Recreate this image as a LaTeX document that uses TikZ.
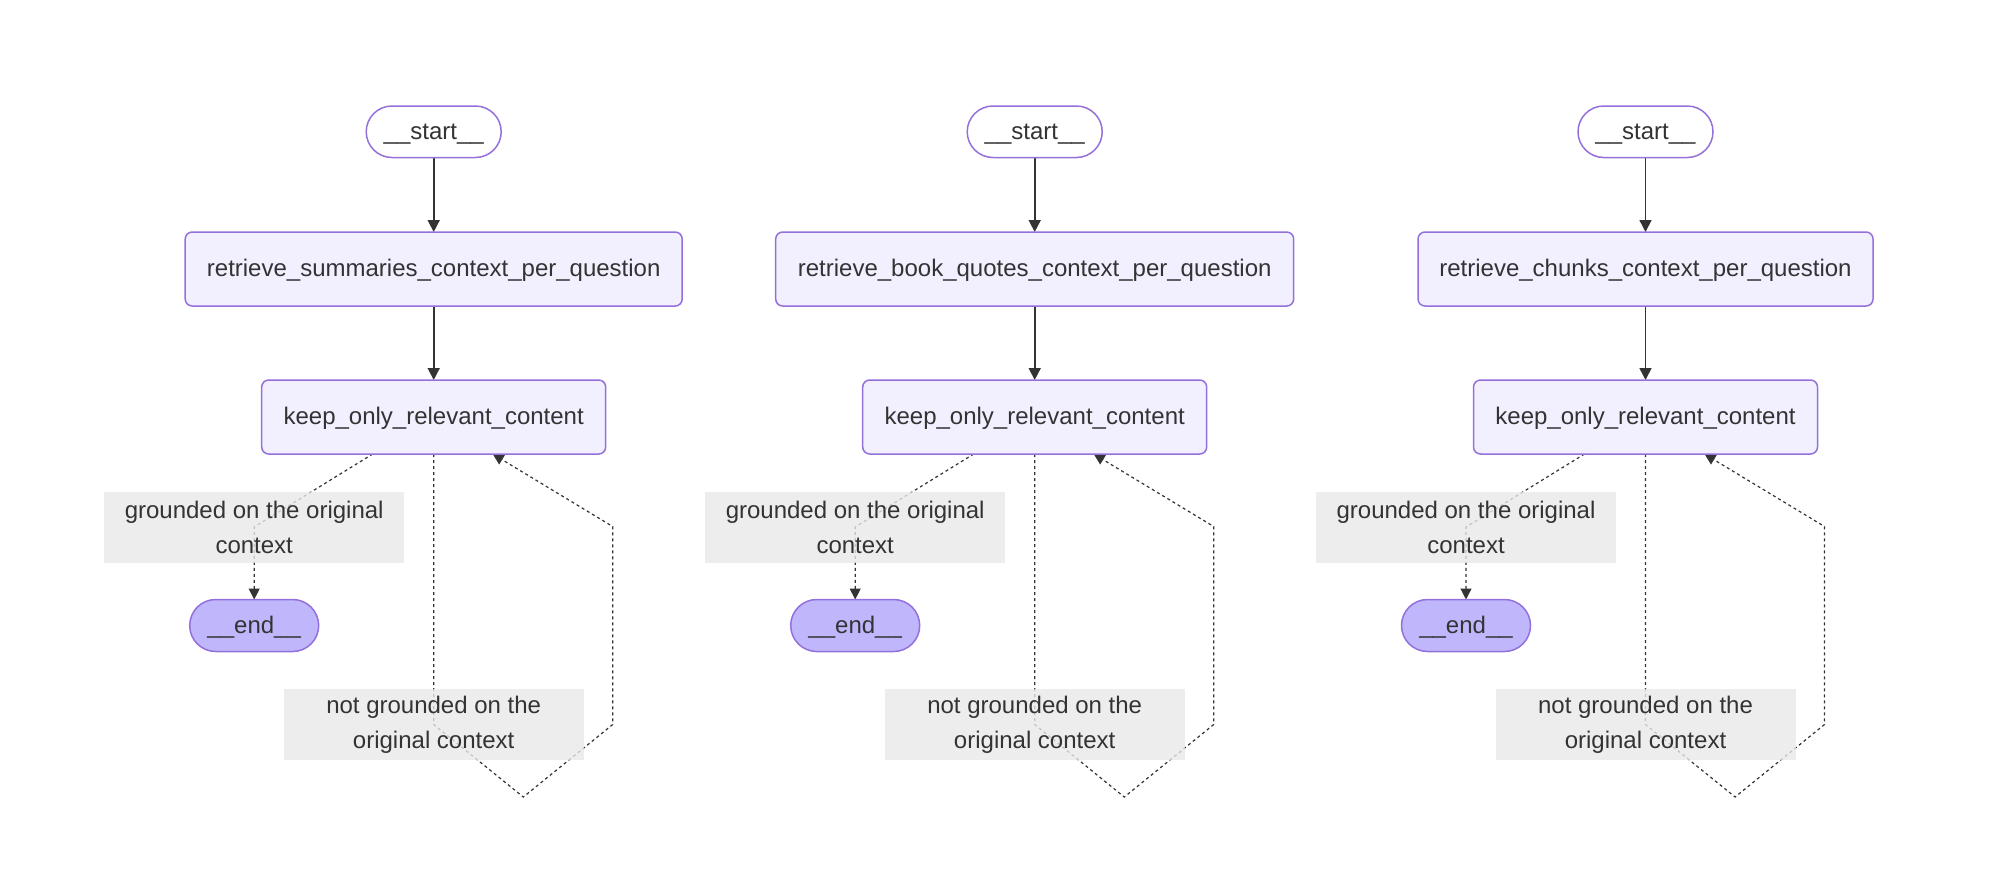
\documentclass[tikz,border=0pt]{standalone}
\usepackage{fontspec}
\setmainfont{Liberation Sans}
\usetikzlibrary{arrows.meta}
\definecolor{nodeStroke}{HTML}{9370DB}
\definecolor{nodeFill}{HTML}{F2F0FF}
\definecolor{endFill}{HTML}{BFB6FC}
\definecolor{labelFill}{HTML}{E8E8E8}
\definecolor{textc}{HTML}{333333}
\definecolor{edgec}{HTML}{333333}
\pgfdeclarelayer{background}
\pgfsetlayers{background,main}
\tikzset{
  basebox/.style={rectangle, draw=nodeStroke, line width=1.5pt, inner sep=0pt, outer sep=0pt,
    text=textc, font=\fontsize{24pt}{35pt}\selectfont, text height=19.5pt, text depth=4.5pt},
  procbox/.style={basebox, rounded corners=7pt, fill=nodeFill, minimum height=74pt},
  startbox/.style={basebox, rounded corners=25.75pt, fill=white, minimum width=135pt, minimum height=51.5pt},
  endbox/.style={basebox, rounded corners=26pt, fill=endFill, minimum width=129pt, minimum height=52pt},
  elabel/.style={rectangle, fill=labelFill, fill opacity=0.8, text opacity=1, text=textc,
    minimum width=300pt, minimum height=71pt, inner sep=0pt, align=center,
    font=\fontsize{24pt}{35pt}\selectfont},
  solidedge/.style={draw=edgec, line width=1.6pt, -{Triangle[length=12pt,width=12pt]}},
  dotedge/.style={draw=edgec, line width=1.2pt, dash pattern=on 3pt off 3pt, -{Triangle[length=11pt,width=11pt]}},
}
\begin{document}
\begin{tikzpicture}[x=1pt,y=-1pt]
\useasboundingbox (0,0) rectangle (2000,871);
\foreach \i/\X/\lab/\w in {1/433.7/retrieve\_summaries\_context\_per\_question/497,
                           2/1034.7/retrieve\_book\_quotes\_context\_per\_question/518,
                           3/1645.5/retrieve\_chunks\_context\_per\_question/455}{
  \node[startbox] (s\i) at (\X,131.75) {\_\_start\_\_};
  \node[procbox, minimum width=\w pt] (r\i) at (\X,269) {\lab};
  \node[procbox, minimum width=344pt] (k\i) at (\X,417) {keep\_only\_relevant\_content};
  \node[endbox] (e\i) at (\X-179.5,625.5) {\_\_end\_\_};
  \node[elabel] (g\i) at (\X-179.5,527) {grounded on the original\\context};
  \node[elabel] (n\i) at (\X,724.5) {not grounded on the\\original context};
  \begin{pgfonlayer}{background}
    \draw[solidedge] (s\i) -- (r\i);
    \draw[solidedge] (r\i) -- (k\i);
    \draw[dotedge] ([xshift=-61pt]k\i.south) -- (g\i.center) -- (e\i.north);
    \draw[dotedge] (k\i.south) -- (n\i.center) -- ++(89.6,72.5) -- ++(89.4,-72.5)
       -- ++(0,-198) -- ([xshift=59pt]k\i.south);
  \end{pgfonlayer}
}
\end{tikzpicture}
\end{document}
